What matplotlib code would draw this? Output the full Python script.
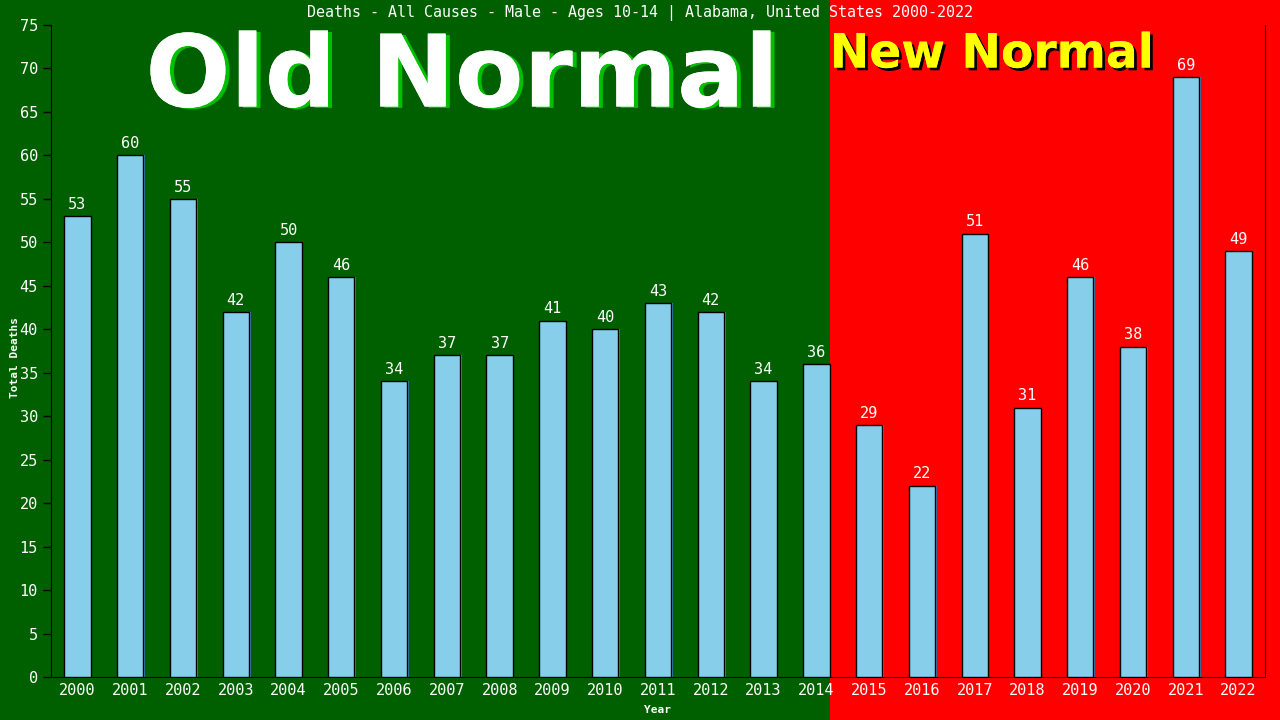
import matplotlib
matplotlib.use('Agg')
import matplotlib.pyplot as plt
import matplotlib.patheffects as pe

years = [str(y) for y in range(2000, 2023)]
deaths = [53, 60, 55, 42, 50, 46, 34, 37, 37, 41, 40, 43, 42, 34, 36,
          29, 22, 51, 31, 46, 38, 69, 49]
y_ticks = list(range(0, 80, 5))
split_year = '2015'  # first "New Normal" year

green = '#006000'
red = '#ff0000'
mono = 'DejaVu Sans Mono'

fig = plt.figure(figsize=(12.8, 7.2), dpi=100, facecolor=green)
ax = fig.add_axes([51/1280, 43/720, 1214/1280, 652/720])
ax.set_facecolor('none')

x = list(range(len(years)))
split = years.index(split_year) - 1 + 0.25  # right edge of the last old bar
ax.set_xlim(-0.5, len(years) - 0.5)
ax.set_ylim(0, 75)

# red background from the right edge of the 2014 bar to the right edge of the image
fx = ax.transData.transform((split, 0))[0] / fig.bbox.width
fig.patches.append(plt.Rectangle((fx, 0), 1 - fx, 1, transform=fig.transFigure,
                                 facecolor=red, edgecolor='none', zorder=-10))

# bar shadow then bar
ax.bar([i + 0.03 for i in x], deaths, width=0.5, color='#4682b4', zorder=2)
ax.bar(x, deaths, width=0.5, color='#87ceeb', edgecolor='black', linewidth=1.0, zorder=3)

for i, v in zip(x, deaths):
    ax.text(i, v + 0.5, str(v), ha='center', va='bottom', color='white',
            fontsize=11, family=mono, zorder=4)

ax.set_xticks(x)
ax.set_xticklabels(years, color='white', fontsize=11, family=mono)
ax.set_yticks(y_ticks)
ax.set_yticklabels([str(t) for t in y_ticks], color='white', fontsize=11, family=mono)
ax.tick_params(axis='y', colors='black', length=6, width=1, labelcolor='white')
ax.tick_params(axis='x', length=0, pad=4, labelcolor='white')
for s in ['left', 'bottom', 'right']:
    ax.spines[s].set_color('black')
ax.spines['top'].set_visible(False)

ax.set_ylabel('Total Deaths', color='white', fontsize=8, family=mono, weight='bold')
ax.yaxis.set_label_coords(-31/1214, 0.49)
ax.set_xlabel('Year', color='white', fontsize=8, family=mono, weight='bold')
ax.xaxis.set_label_coords(0.5, -28/652)

fig.text(0.5, 1 - 13/720, 'Deaths - All Causes - Male - Ages 10-14 | Alabama, United States 2000-2022',
         ha='center', va='center', color='white', fontsize=10.8, family=mono)

fig.text(462/1280, 1 - 79/720, 'Old Normal', ha='center', va='center', color='white',
         fontsize=72, weight='bold', family='DejaVu Sans',
         path_effects=[pe.withSimplePatchShadow(offset=(3, -1), shadow_rgbFace='#00c000', alpha=1),
                       pe.Normal()])
fig.text(992/1280, 1 - 55/720, 'New Normal', ha='center', va='center', color='#ffff00',
         fontsize=34, weight='bold', family='DejaVu Sans',
         path_effects=[pe.withSimplePatchShadow(offset=(2, -2), shadow_rgbFace='black', alpha=1),
                       pe.Normal()])

plt.savefig('out.png', dpi=100, facecolor=fig.get_facecolor())
